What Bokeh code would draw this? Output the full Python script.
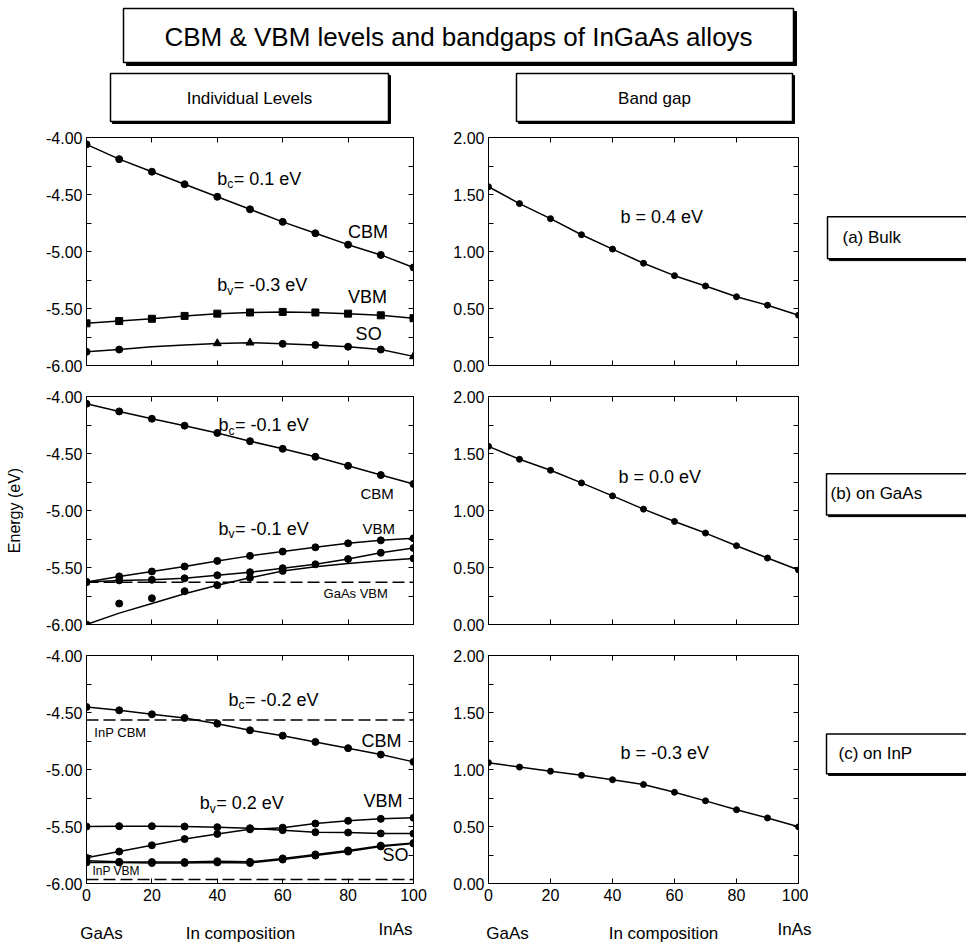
from bokeh.plotting import figure
from bokeh.models import Range1d, FixedTicker, LinearAxis, Label, Span, NumeralTickFormatter
from bokeh.layouts import column, row
from bokeh.embed import file_html
from bokeh.resources import INLINE

FONT = "Liberation Sans"

# ---------------- data ----------------
composition = [0, 10, 20, 30, 40, 50, 60, 70, 80, 90, 100]
x_tick_values = [0, 20, 40, 60, 80, 100]
level_major_ticks = [-6.0, -5.5, -5.0, -4.5, -4.0]
level_minor_ticks = [-5.75, -5.25, -4.75, -4.25]
gap_major_ticks = [0.0, 0.5, 1.0, 1.5, 2.0]
gap_minor_ticks = [0.25, 0.75, 1.25, 1.75]

# (a) bulk
bulk_cbm = [-4.06, -4.19, -4.30, -4.41, -4.52, -4.63, -4.74, -4.84, -4.94, -5.03, -5.14]
bulk_vbm = [-5.63, -5.61, -5.59, -5.565, -5.545, -5.535, -5.53, -5.535, -5.545, -5.56, -5.585]
bulk_so = [-5.88, -5.86, -5.835, -5.82, -5.806, -5.80, -5.81, -5.82, -5.835, -5.86, -5.92]
bulk_so_circle_x = [0, 10, 60, 70, 80, 90]
bulk_so_circle_y = [-5.88, -5.86, -5.81, -5.82, -5.835, -5.86]
bulk_so_tri_x = [40, 50, 100]
bulk_so_tri_y = [-5.806, -5.80, -5.92]
bulk_gap = [1.568, 1.42, 1.288, 1.147, 1.021, 0.897, 0.788, 0.697, 0.603, 0.529, 0.441]

# (b) on GaAs
gaas_cbm = [-4.064, -4.131, -4.195, -4.256, -4.32, -4.392, -4.459, -4.529, -4.608, -4.689, -4.767]
gaas_vbm_hh = [-5.628, -5.578, -5.535, -5.491, -5.442, -5.398, -5.36, -5.323, -5.288, -5.262, -5.244]
gaas_vbm_lh = [-5.627, -5.613, -5.608, -5.595, -5.568, -5.541, -5.506, -5.472, -5.426, -5.371, -5.329]
gaas_so_line = [-6.0, -5.9, -5.815, -5.73, -5.655, -5.59, -5.53, -5.494, -5.465, -5.44, -5.42]
gaas_so_pts_x = [0, 10, 20, 30, 40, 50, 60, 100]
gaas_so_pts_y = [-6.0, -5.816, -5.77, -5.708, -5.655, -5.59, -5.53, -5.42]
gaas_substrate_vbm = -5.63
gaas_gap = [1.563, 1.449, 1.353, 1.242, 1.128, 1.012, 0.904, 0.802, 0.691, 0.583, 0.478]

# (c) on InP
inp_cbm = [-4.452, -4.481, -4.516, -4.548, -4.598, -4.656, -4.703, -4.758, -4.813, -4.869, -4.933]
inp_vbm_a = [-5.50, -5.497, -5.497, -5.50, -5.506, -5.515, -5.532, -5.55, -5.553, -5.561, -5.562]
inp_vbm_b = [-5.775, -5.72, -5.665, -5.61, -5.565, -5.525, -5.51, -5.474, -5.45, -5.433, -5.424]
inp_so_a = [-5.815, -5.815, -5.82, -5.82, -5.815, -5.82, -5.79, -5.755, -5.72, -5.675, -5.65]
inp_so_b = [-5.80, -5.81, -5.812, -5.812, -5.805, -5.81, -5.78, -5.745, -5.71, -5.668, -5.645]
inp_substrate_cbm = -4.565
inp_substrate_vbm = -5.965
inp_gap = [1.06, 1.021, 0.985, 0.949, 0.91, 0.868, 0.80, 0.725, 0.647, 0.575, 0.497]

# ---------------- layout constants ----------------
ROW_TOP = [130, 380, 640]
ROW_H = [250, 260, 270]
BORDER_TOP = [7, 16, 15]
BORDER_BOT = [15, 16, 27]
LEFT_W, RIGHT_W, LAB_W = 433, 375, 158


def txt(p, x, y, text, size=18, align="left", baseline="middle", xo=0, yo=0):
    p.add_layout(Label(x=x, y=y, text=text, text_font=FONT, text_font_size=f"{size}px",
                       text_align=align, text_baseline=baseline, x_offset=xo, y_offset=yo,
                       text_color="black"))


def bexpr(p, x, y, sub, rest, size=18):
    txt(p, x, y, "b", size)
    txt(p, x, y, sub, int(size * 0.72), xo=size * 0.556, yo=-size * 0.32)
    txt(p, x, y, rest, size, xo=size * 0.556 + size * 0.72 * 0.5)


def hide_labels(ax):
    ax.major_label_text_font_size = "0px"
    ax.major_label_text_color = None
    ax.major_label_standoff = 0


def panel(i, width, yr, majors, minors, bl, br, show_x, ylabel=None):
    p = figure(width=width, height=ROW_H[i], x_range=Range1d(0, 100), y_range=Range1d(*yr),
               output_backend="svg", toolbar_location=None,
               min_border_left=bl, min_border_right=br,
               min_border_top=BORDER_TOP[i], min_border_bottom=BORDER_BOT[i],
               outline_line_color="black", outline_line_width=1,
               background_fill_color="white", border_fill_color="white")
    p.grid.visible = False
    p.yaxis.ticker = FixedTicker(ticks=majors, minor_ticks=minors)
    p.yaxis.formatter = NumeralTickFormatter(format="0.00")
    p.xaxis.ticker = FixedTicker(ticks=x_tick_values)
    for ax in (p.xaxis[0], p.yaxis[0]):
        ax.major_tick_in = 5
        ax.major_tick_out = 0
        ax.minor_tick_in = 5
        ax.minor_tick_out = 0
        ax.axis_line_color = "black"
        ax.major_tick_line_color = "black"
        ax.minor_tick_line_color = "black"
        ax.major_label_text_font = FONT
        ax.major_label_text_font_size = "16px"
        ax.major_label_text_color = "black"
    p.yaxis.major_label_standoff = 4
    if not show_x:
        hide_labels(p.xaxis[0])
    if ylabel:
        p.yaxis.axis_label = ylabel
        p.yaxis.axis_label_text_font = FONT
        p.yaxis.axis_label_text_font_size = "16px"
        p.yaxis.axis_label_text_font_style = "normal"
        p.yaxis.axis_label_text_color = "black"
        p.yaxis.axis_label_standoff = 20
    right = LinearAxis(ticker=FixedTicker(ticks=majors, minor_ticks=minors),
                       major_tick_in=5, major_tick_out=0, minor_tick_in=5, minor_tick_out=0)
    top = LinearAxis(ticker=FixedTicker(ticks=x_tick_values),
                     major_tick_in=5, major_tick_out=0, minor_tick_in=0, minor_tick_out=0)
    hide_labels(right)
    hide_labels(top)
    p.add_layout(right, "right")
    p.add_layout(top, "above")
    return p


def curve(p, y, marker="circle", size=7):
    p.line(composition, y, line_color="black", line_width=1.5)
    if marker:
        p.scatter(composition, y, marker=marker, size=size, fill_color="black", line_color="black")


def dashed(p, level):
    p.add_layout(Span(location=level, dimension="width", line_color="black",
                      line_width=1.5, line_dash="12 5"))


def deco(x0, y0, w, h):
    p = figure(width=w, height=h, x_range=Range1d(x0, x0 + w), y_range=Range1d(y0 + h, y0),
               output_backend="svg", toolbar_location=None, min_border=0,
               x_axis_location=None, y_axis_location=None, outline_line_color=None,
               background_fill_color="white", border_fill_color="white")
    p.grid.visible = False
    return p


def box(p, l, r, t, b, shadow=2):
    p.quad(left=[l + shadow], right=[r + shadow], top=[t + shadow], bottom=[b + shadow],
           fill_color="black", line_color="black")
    p.quad(left=[l], right=[r], top=[t], bottom=[b], fill_color="white",
           line_color="black", line_width=1.5)


# ---------------- header ----------------
head = deco(0, 0, 966, 130)
box(head, 123, 793, 8, 62, shadow=3)
txt(head, 458, 36, "CBM & VBM levels and bandgaps of InGaAs alloys", 26, align="center")
box(head, 110, 388, 73, 121)
txt(head, 249, 98, "Individual Levels", 17, align="center")
box(head, 516, 792, 73, 121)
txt(head, 654, 98, "Band gap", 17, align="center")

# ---------------- row (a) ----------------
la = panel(0, LEFT_W, (-6, -4), level_major_ticks, level_minor_ticks, 86, 20, False)
curve(la, bulk_cbm)
la.line(composition, bulk_vbm, line_color="black", line_width=1.5)
la.scatter(composition, bulk_vbm, marker="square", size=7, fill_color="black", line_color="black")
la.line(composition, bulk_so, line_color="black", line_width=1.5)
la.scatter(bulk_so_circle_x, bulk_so_circle_y, marker="circle", size=7, fill_color="black", line_color="black")
la.scatter(bulk_so_tri_x, bulk_so_tri_y, marker="triangle", size=8, fill_color="black", line_color="black")
bexpr(la, 40.0, -4.36, "c", "= 0.1 eV")
txt(la, 80.0, -4.833, "CBM")
bexpr(la, 40.0, -5.298, "v", "= -0.3 eV")
txt(la, 80.0, -5.395, "VBM")
txt(la, 82.3, -5.728, "SO")

ra = panel(0, RIGHT_W, (0, 2), gap_major_ticks, gap_minor_ticks, 55, 10, False)
curve(ra, bulk_gap, size=6)
txt(ra, 42.6, 1.307, "b = 0.4 eV")

laba = deco(808, ROW_TOP[0], LAB_W, ROW_H[0])
box(laba, 827, 980, 217, 263)
txt(laba, 842, 240, "(a) Bulk", 17)

# ---------------- row (b) ----------------
lb = panel(1, LEFT_W, (-6, -4), level_major_ticks, level_minor_ticks, 86, 20, False, "Energy (eV)")
curve(lb, gaas_cbm)
curve(lb, gaas_vbm_hh)
curve(lb, gaas_vbm_lh)
lb.line(composition, gaas_so_line, line_color="black", line_width=1.5)
lb.scatter(gaas_so_pts_x, gaas_so_pts_y, marker="circle", size=7, fill_color="black", line_color="black")
dashed(lb, gaas_substrate_vbm)
bexpr(lb, 40.4, -4.254, "c", "=  -0.1 eV")
txt(lb, 83.8, -4.851, "CBM", 15)
bexpr(lb, 40.4, -5.158, "v", "= -0.1 eV")
txt(lb, 84.4, -5.158, "VBM", 15)
txt(lb, 72.5, -5.728, "GaAs VBM", 13)

rb = panel(1, RIGHT_W, (0, 2), gap_major_ticks, gap_minor_ticks, 55, 10, False)
curve(rb, gaas_gap, size=6)
txt(rb, 41.9, 1.298, "b = 0.0 eV")

labb = deco(808, ROW_TOP[1], LAB_W, ROW_H[1])
box(labb, 826, 980, 468, 515)
txt(labb, 830, 491, "(b) on GaAs", 17)

# ---------------- row (c) ----------------
lc = panel(2, LEFT_W, (-6, -4), level_major_ticks, level_minor_ticks, 86, 20, True)
curve(lc, inp_cbm)
curve(lc, inp_vbm_a)
curve(lc, inp_vbm_b)
curve(lc, inp_so_a)
curve(lc, inp_so_b)
dashed(lc, inp_substrate_cbm)
dashed(lc, inp_substrate_vbm)
bexpr(lc, 43.4, -4.386, "c", "=  -0.2 eV")
txt(lc, 2.4, -4.675, "InP CBM", 13)
txt(lc, 84.1, -4.746, "CBM")
bexpr(lc, 34.6, -5.298, "v", "= 0.2 eV")
txt(lc, 84.7, -5.28, "VBM")
txt(lc, 90.5, -5.754, "SO")
txt(lc, 1.8, -5.89, "InP VBM", 12)

rc = panel(2, RIGHT_W, (0, 2), gap_major_ticks, gap_minor_ticks, 55, 10, True)
curve(rc, inp_gap, size=6)
txt(rc, 42.6, 1.149, "b = -0.3 eV")

labc = deco(808, ROW_TOP[2], LAB_W, ROW_H[2])
box(labc, 826, 980, 733, 780)
txt(labc, 838, 756, "(c) on InP", 17)

# ---------------- footer ----------------
foot = deco(0, 910, 966, 40)
txt(foot, 101, 933, "GaAs", 17, align="center")
txt(foot, 240, 933, "In composition", 17, align="center")
txt(foot, 395, 929, "InAs", 17, align="center")
txt(foot, 507, 933, "GaAs", 17, align="center")
txt(foot, 663, 933, "In composition", 17, align="center")
txt(foot, 794, 929, "InAs", 17, align="center")

layout = column(head, row(la, ra, laba), row(lb, rb, labb), row(lc, rc, labc), foot)
open("out.html", "w").write(file_html(layout, INLINE))
